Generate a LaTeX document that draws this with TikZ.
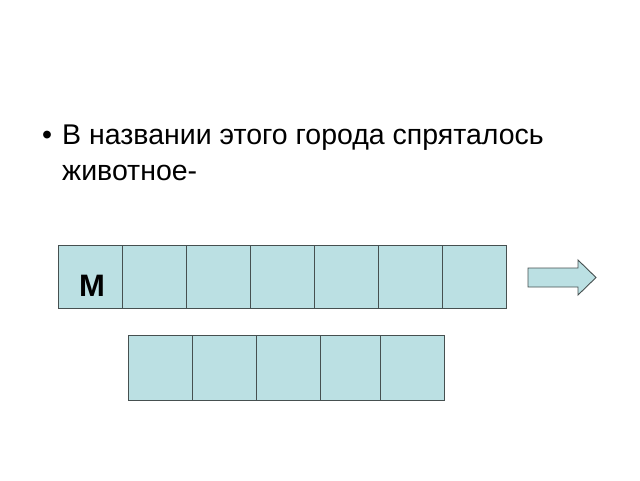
\documentclass[tikz,border=0pt]{standalone}
\usepackage{fontspec}
\setmainfont{Liberation Sans}
\definecolor{cellfill}{RGB}{187,224,227}
\definecolor{celldraw}{RGB}{70,80,80}
\tikzset{cell/.style={draw=celldraw,fill=cellfill,line width=0.9pt,minimum width=64pt,minimum height=63pt,inner sep=0pt,outer sep=0pt}}
\tikzset{txt/.style={font=\fontsize{28.5}{34}\selectfont,anchor=base west,inner sep=0pt}}
\begin{document}
\begin{tikzpicture}[x=1pt,y=-1pt]
  \useasboundingbox (0,0) rectangle (640,480);
  % bullet text
  \node[txt] (b) at (42,144) {•};
  \node[txt] (l1) at (62,144) {В названии этого города спряталось};
  \node[txt] (l2) at (62,180) {животное-};
  % top row
  \foreach \i in {0,...,6}
    \node[cell,anchor=north west] (t\i) at (58+64*\i,245) {};
  \node[font=\fontsize{31}{36}\selectfont\bfseries] (m) at (92,286) {М};
  % bottom row
  \foreach \i in {0,...,3}
    \node[cell,anchor=north west,minimum height=65pt] (d\i) at (128+64*\i,335) {};
  \node[cell,anchor=north west,minimum height=65pt] (d4) at (380,335) {};
  % arrow
  \draw[draw=celldraw,fill=cellfill,line width=0.9pt]
    (528,268) -- (578,268) -- (578,260) -- (596,277.5) -- (578,295)
    -- (578,287) -- (528,287) -- cycle;
\end{tikzpicture}
\end{document}
